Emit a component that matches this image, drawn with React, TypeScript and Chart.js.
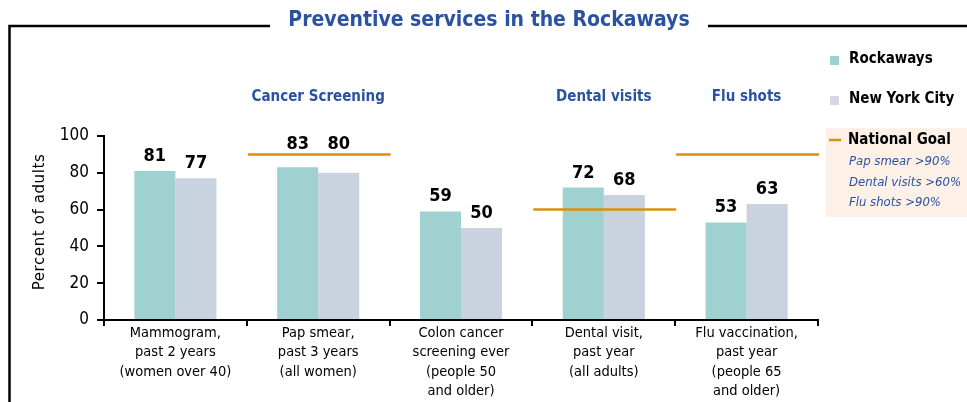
import React, { useEffect, useRef } from "react";
import { Chart, registerables } from "chart.js";
Chart.register(...registerables);

const categories: string[][] = [
  ["Mammogram,", "past 2 years", "(women over 40)"],
  ["Pap smear,", "past 3 years", "(all women)"],
  ["Colon cancer", "screening ever", "(people 50", "and older)"],
  ["Dental visit,", "past year", "(all adults)"],
  ["Flu vaccination,", "past year", "(people 65", "and older)"],
];
const rockaways = [81, 83, 59, 72, 53];
const newYorkCity = [77, 80, 50, 68, 63];
const nationalGoal: (number | null)[] = [null, 90, null, 60, 90];
const yTickMax = 100;
const yTickStep = 20;
const groupLabels = [
  { text: "Cancer Screening", from: 0, to: 2 },
  { text: "Dental visits", from: 3, to: 3 },
  { text: "Flu shots", from: 4, to: 4 },
];
const goalNotes = ["Pap smear >90%", "Dental visits >60%", "Flu shots >90%"];
const titleText = "Preventive services in the Rockaways";
const yTitle = "Percent of adults";

const FONT = "'DejaVu Sans Condensed', 'DejaVu Sans', sans-serif";
const FONT_WIDE = "'DejaVu Sans', sans-serif";
const TEAL = "#9fd1d1";
const GRAY = "#c9d3df";
const ORANGE = "#da900c";
const BLUE = "#2a52a0";

const overlay = {
  id: "overlay",
  afterDraw(chart: any) {
    const ctx = chart.ctx as CanvasRenderingContext2D;
    const x = chart.scales.x;
    const y = chart.scales.y;
    ctx.save();

    // frame
    ctx.strokeStyle = "#000";
    ctx.lineWidth = 2.5;
    ctx.beginPath();
    ctx.moveTo(9.5, 402);
    ctx.lineTo(9.5, 26);
    ctx.lineTo(270, 26);
    ctx.moveTo(708, 26);
    ctx.lineTo(967, 26);
    ctx.stroke();

    // title
    ctx.fillStyle = BLUE;
    ctx.font = `bold 21px ${FONT}`;
    ctx.textAlign = "center";
    ctx.textBaseline = "middle";
    ctx.fillText(titleText, 489, 21);

    // y title
    ctx.save();
    ctx.translate(40, 222);
    ctx.rotate(-Math.PI / 2);
    ctx.fillStyle = "#000";
    ctx.font = `15px ${FONT_WIDE}`;
    (ctx as any).letterSpacing = "0.6px";
    ctx.fillText(yTitle, 0, 0);
    ctx.restore();

    // data labels
    ctx.fillStyle = "#000";
    ctx.font = `bold 18px ${FONT}`;
    ctx.textBaseline = "alphabetic";
    chart.data.datasets.forEach((ds: any, di: number) => {
      const meta = chart.getDatasetMeta(di);
      meta.data.forEach((bar: any, i: number) => {
        let base = bar.y - 10;
        const g = nationalGoal[i];
        if (g != null) {
          const gp = y.getPixelForValue(g);
          if (gp > bar.y - 30 && gp < bar.y + 2) base = gp - 5;
        }
        ctx.fillText(String(ds.data[i]), bar.x, base);
      });
    });

    // goal lines
    const catW = (x.right - x.left) / categories.length;
    ctx.strokeStyle = ORANGE;
    ctx.lineWidth = 2.5;
    nationalGoal.forEach((g, i) => {
      if (g == null) return;
      const cx = x.getPixelForValue(i);
      const py = y.getPixelForValue(g);
      ctx.beginPath();
      ctx.moveTo(cx - catW / 2 + 1, py);
      ctx.lineTo(cx + catW / 2 + 1, py);
      ctx.stroke();
    });

    // group labels
    ctx.fillStyle = BLUE;
    ctx.font = `bold 15px ${FONT}`;
    ctx.textBaseline = "middle";
    groupLabels.forEach((gl) => {
      const a = x.getPixelForValue(gl.from);
      const b = x.getPixelForValue(gl.to);
      ctx.fillText(gl.text, (a + b) / 2, 97);
    });

    // legend
    ctx.textAlign = "left";
    ctx.fillStyle = TEAL;
    ctx.fillRect(830, 56, 9, 9);
    ctx.fillStyle = "#d5d7e6";
    ctx.fillRect(830, 96, 9, 9);
    ctx.fillStyle = "#000";
    ctx.font = `bold 15px ${FONT}`;
    ctx.fillText("Rockaways", 849, 59);
    ctx.fillText("New York City", 849, 99);

    ctx.fillStyle = "#fdf0e6";
    ctx.fillRect(826, 128, 141, 89);
    ctx.strokeStyle = ORANGE;
    ctx.lineWidth = 2.5;
    ctx.beginPath();
    ctx.moveTo(829, 140);
    ctx.lineTo(841, 140);
    ctx.stroke();
    ctx.fillStyle = "#000";
    ctx.font = `bold 15px ${FONT}`;
    ctx.fillText("National Goal", 848, 140);
    ctx.fillStyle = BLUE;
    ctx.font = `italic 13px ${FONT}`;
    goalNotes.forEach((t, i) => ctx.fillText(t, 849, 162 + i * 20.5));

    ctx.restore();
  },
};

export default function App() {
  const ref = useRef<HTMLCanvasElement>(null);
  useEffect(() => {
    document.body.style.margin = "0";
    const chart = new Chart(ref.current!, {
      type: "bar",
      data: {
        labels: categories,
        datasets: [
          { label: "Rockaways", data: rockaways, backgroundColor: TEAL, categoryPercentage: 0.575, barPercentage: 1 },
          { label: "New York City", data: newYorkCity, backgroundColor: GRAY, categoryPercentage: 0.575, barPercentage: 1 },
        ],
      },
      options: {
        animation: false,
        responsive: false,
        devicePixelRatio: 1,
        layout: { padding: { top: 136, right: 149, left: 0, bottom: 0 } },
        plugins: { legend: { display: false }, tooltip: { enabled: false }, title: { display: false } },
        scales: {
          x: {
            afterFit: (s: any) => { s.height = 82; },
            grid: { drawOnChartArea: false, offset: true, tickLength: 6, color: "#000", lineWidth: 2 },
            border: { display: true, color: "#000", width: 2 },
            ticks: { color: "#000", font: { family: FONT, size: 14.5, lineHeight: 1.35 }, padding: -3, maxRotation: 0, autoSkip: false },
          },
          y: {
            min: 0,
            max: yTickMax,
            afterFit: (s: any) => { s.width = 104; },
            grid: { drawOnChartArea: false, tickLength: 7, color: "#000", lineWidth: 2 },
            border: { display: true, color: "#000", width: 2 },
            ticks: { stepSize: yTickStep, color: "#000", font: { family: FONT, size: 17 }, padding: 8 },
          },
        },
      },
      plugins: [overlay],
    });
    return () => chart.destroy();
  }, []);
  return (
    <div style={{ position: "absolute", left: 0, top: 0, width: 967, height: 402, background: "#fff" }}>
      <canvas ref={ref} width={967} height={402} />
    </div>
  );
}
